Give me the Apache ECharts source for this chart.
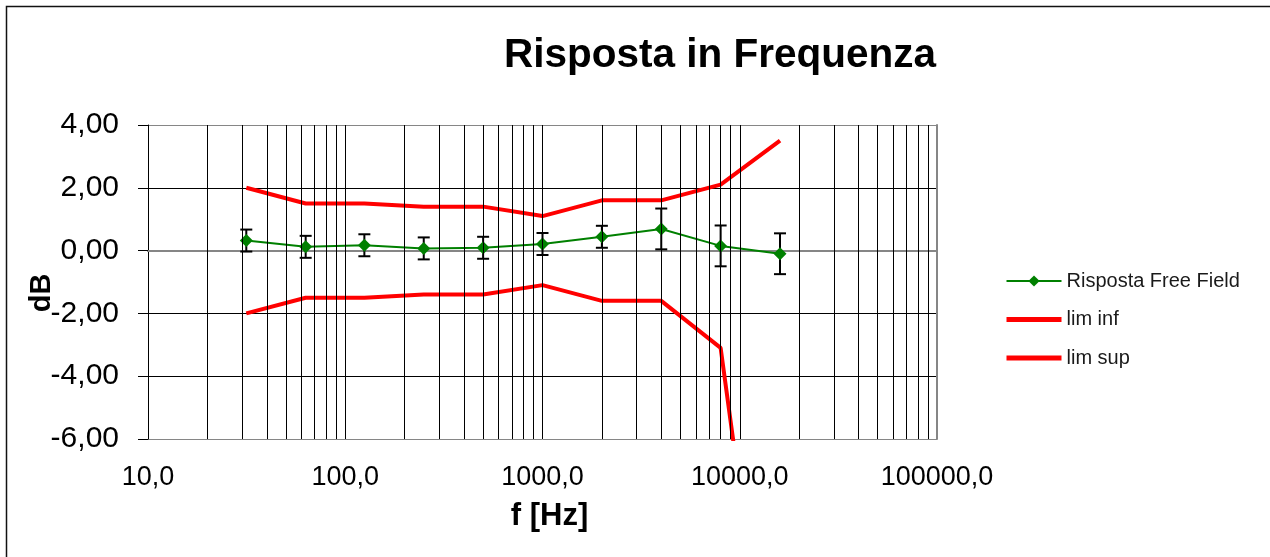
<!DOCTYPE html>
<html>
<head>
<meta charset="utf-8">
<script src="https://cdn.jsdelivr.net/npm/echarts@6/dist/echarts.min.js"></script>
<style>html,body{margin:0;padding:0;background:#fff}#c{width:1270px;height:557px}</style>
</head>
<body>
<div id="c"></div>
<script>
// ---- data ----
const freqs = [31.5, 63, 125, 250, 500, 1000, 2000, 4000, 8000, 16000];
const response = [0.32, 0.12, 0.17, 0.07, 0.09, 0.21, 0.44, 0.69, 0.15, -0.10];
const uncertainty = [0.35, 0.35, 0.35, 0.35, 0.35, 0.35, 0.35, 0.65, 0.65, 0.65];
const limInf = [-2.0, -1.5, -1.5, -1.4, -1.4, -1.1, -1.6, -1.6, -3.1, -17.0];
const limSup = [2.0, 1.5, 1.5, 1.4, 1.4, 1.1, 1.6, 1.6, 2.1, 3.5];
const xTickDecades = [10, 100, 1000, 10000];
const xGridMultipliers = [1, 2, 3, 4, 5, 6, 7, 8, 9];
const yTicks = [-6, -4, -2, 0, 2, 4];

// vertical grid lines (every 1..9 x decade, excluding the plot frame at 10 and 100000)
const vGrid = [];
xTickDecades.forEach(d => xGridMultipliers.forEach(m => { const v = d * m; if (v > 10) vGrid.push(v); }));

const FONT = "'Liberation Sans', Arial, sans-serif";
const chart = echarts.init(document.getElementById('c'), null, {renderer: 'canvas'});
const pair = (a) => freqs.map((f, i) => [f, a[i]]);
const noSymbol = {color: 'rgba(0,0,0,0)', borderWidth: 0, opacity: 0};

chart.setOption({
  animation: false,
  backgroundColor: '#fff',
  textStyle: {fontFamily: FONT},
  title: {
    text: 'Risposta in Frequenza',
    left: 499, top: 30,
    textStyle: {fontFamily: FONT, fontSize: 40.5, fontWeight: 'bold', color: '#000'}
  },
  graphic: [{
    type: 'rect', silent: true,
    shape: {x: 6.5, y: 6.5, width: 1300, height: 700},
    style: {fill: 'none', stroke: '#111', lineWidth: 1.5}
  }],
  legend: {
    orient: 'vertical', left: 999, top: 266,
    itemWidth: 55, itemHeight: 14, itemGap: 18.5,
    data: [
      {name: 'Risposta Free Field', lineStyle: {width: 2, color: '#008000'}},
      {name: 'lim inf', itemStyle: noSymbol, lineStyle: {width: 5, color: '#ff0000'}},
      {name: 'lim sup', itemStyle: noSymbol, lineStyle: {width: 5, color: '#ff0000'}}
    ],
    textStyle: {fontFamily: FONT, fontSize: 20, color: '#1a1a1a'}
  },
  grid: {left: 148, right: 333, top: 125, bottom: 118, containLabel: false, outerBoundsMode: 'none'},
  xAxis: [{
    type: 'log', logBase: 10, min: 10, max: 100000, position: 'bottom',
    name: 'f [Hz]', nameLocation: 'middle', nameGap: 62, nameMoveOverlap: false,
    nameTextStyle: {fontFamily: FONT, fontSize: 31, fontWeight: 'bold', color: '#000', padding: [0, 0, 0, 14]},
    axisLine: {show: true, lineStyle: {color: '#868686', width: 2}},
    axisTick: {show: false},
    splitLine: {show: false},
    axisLabel: {
      fontFamily: FONT, fontSize: 27, color: '#000', margin: 25,
      showMinLabel: true, showMaxLabel: true,
      formatter: v => Number(v).toFixed(1).replace('.', ',')
    }
  }, {
    type: 'log', logBase: 10, min: 10, max: 100000, position: 'top',
    axisLine: {show: true, lineStyle: {color: '#868686', width: 2}},
    axisTick: {show: false}, axisLabel: {show: false}, splitLine: {show: false}
  }],
  yAxis: [{
    type: 'value', min: -6, max: 4, interval: 2, position: 'left',
    name: 'dB', nameLocation: 'middle', nameRotate: 90, nameGap: 92, nameMoveOverlap: false,
    nameTextStyle: {fontFamily: FONT, fontSize: 29, fontWeight: 'bold', color: '#000', padding: [0, 22, 0, 0]},
    axisLine: {show: true, lineStyle: {color: '#000', width: 1}},
    axisTick: {show: true, inside: false, length: 10, lineStyle: {color: '#000', width: 1}},
    splitLine: {show: true, lineStyle: {color: ['#868686', '#000', '#000', '#000', '#000', '#868686'], width: 1}},
    axisLabel: {
      fontFamily: FONT, fontSize: 30, color: '#000', margin: 29,
      formatter: v => Number(v).toFixed(2).replace('.', ',')
    }
  }, {
    type: 'value', min: -6, max: 4, interval: 2, position: 'right',
    axisLine: {show: true, lineStyle: {color: '#868686', width: 2}},
    axisTick: {show: false}, axisLabel: {show: false}, splitLine: {show: false}
  }],
  series: [
    {
      name: 'grid', type: 'line', data: [], z: 1, silent: true,
      markLine: {
        silent: true, symbol: 'none', animation: false,
        label: {show: false},
        lineStyle: {color: '#000', width: 1, type: 'solid'},
        emphasis: {disabled: true},
        data: vGrid.map(v => ({xAxis: v}))
      }
    },
    {
      name: 'lim inf', type: 'line', data: pair(limInf), z: 2,
      symbol: 'none', showSymbol: false, clip: true,
      lineStyle: {color: '#ff0000', width: 4}, itemStyle: {color: '#ff0000'}
    },
    {
      name: 'lim sup', type: 'line', data: pair(limSup), z: 2,
      symbol: 'none', showSymbol: false, clip: true,
      lineStyle: {color: '#ff0000', width: 4}, itemStyle: {color: '#ff0000'}
    },
    {
      name: 'err', type: 'custom', z: 3, silent: true,
      data: freqs.map((f, i) => [f, response[i] - uncertainty[i], response[i] + uncertainty[i]]),
      encode: {x: 0, y: [1, 2]},
      renderItem: (params, api) => {
        const x = api.value(0);
        const lo = api.coord([x, api.value(1)]);
        const hi = api.coord([x, api.value(2)]);
        const w = 6;
        const st = {stroke: '#000', lineWidth: 2};
        return {type: 'group', children: [
          {type: 'line', shape: {x1: lo[0], y1: lo[1], x2: hi[0], y2: hi[1]}, style: st},
          {type: 'line', shape: {x1: lo[0] - w, y1: lo[1], x2: lo[0] + w, y2: lo[1]}, style: st},
          {type: 'line', shape: {x1: hi[0] - w, y1: hi[1], x2: hi[0] + w, y2: hi[1]}, style: st}
        ]};
      }
    },
    {
      name: 'Risposta Free Field', type: 'line', data: pair(response), z: 4,
      symbol: 'diamond', symbolSize: 13,
      lineStyle: {color: '#008000', width: 2}, itemStyle: {color: '#008000'}
    }
  ]
});
</script>
</body>
</html>
